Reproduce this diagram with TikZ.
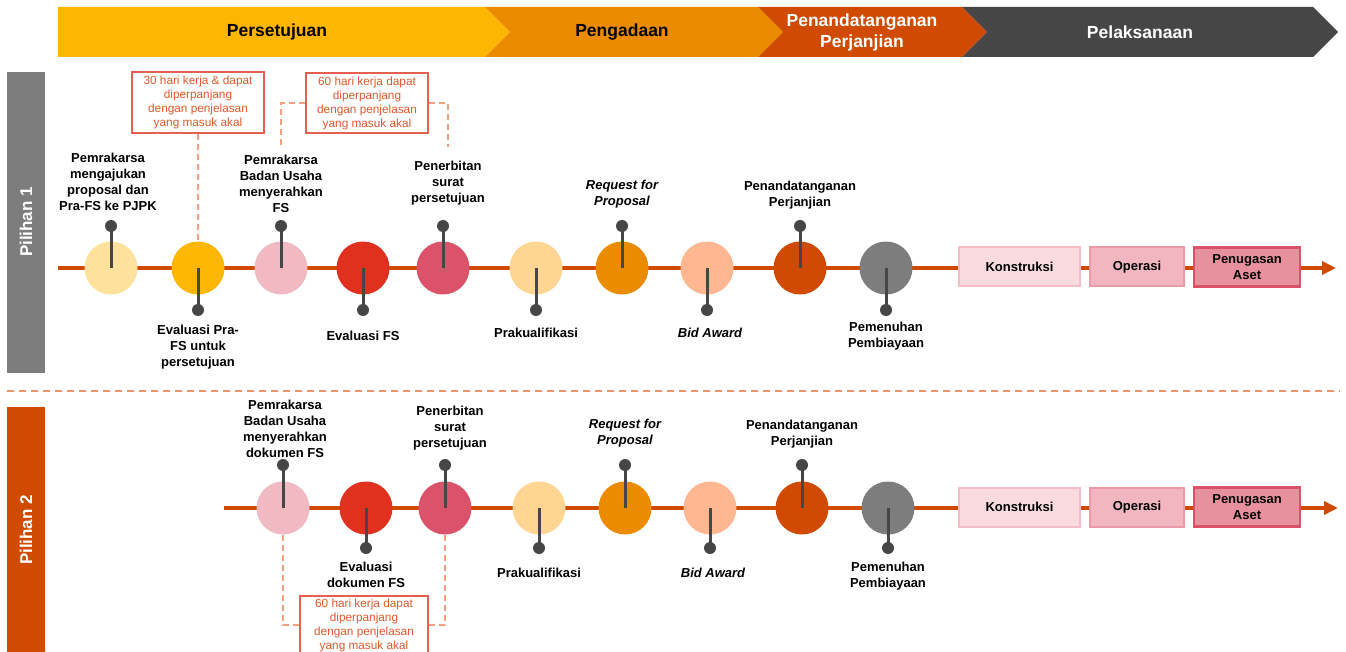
\documentclass[tikz,border=0pt]{standalone}
\usepackage{fontspec}
\setmainfont{Liberation Sans}
\usetikzlibrary{arrows.meta}
\definecolor{pYel}{HTML}{FFB600}
\definecolor{pOra}{HTML}{EB8C00}
\definecolor{pRed}{HTML}{D04A02}
\definecolor{pDark}{HTML}{464646}
\definecolor{pGray}{HTML}{7D7D7D}
\definecolor{cLY}{HTML}{FEE19D}
\definecolor{cPink}{HTML}{F1BAC3}
\definecolor{cRed}{HTML}{E0301E}
\definecolor{cRose}{HTML}{DB536A}
\definecolor{cLO}{HTML}{FFD593}
\definecolor{cSal}{HTML}{FEB791}
\definecolor{noteTxt}{HTML}{E2582A}
\definecolor{noteBrd}{HTML}{E5604F}
\definecolor{dashC}{HTML}{F0A07E}
\definecolor{sepC}{HTML}{EC9470}
\definecolor{boxAf}{HTML}{F9DADF}
\definecolor{boxAd}{HTML}{F3BDC6}
\definecolor{boxBf}{HTML}{F1B6C0}
\definecolor{boxBd}{HTML}{EA99A7}
\definecolor{boxCf}{HTML}{E8909E}
\definecolor{boxCd}{HTML}{DD5168}
\tikzset{
  stepc/.style={circle, fill=#1, minimum size=53pt, inner sep=0pt},
  dotn/.style={circle, fill=pDark, minimum size=12pt, inner sep=0pt},
  stemline/.style={draw=pDark, line width=3pt},
  lbl/.style={font=\bfseries\fontsize{13}{16}\selectfont, align=center, inner sep=0pt, text=black},
  ilbl/.style={font=\bfseries\itshape\fontsize{13}{16}\selectfont, align=center, inner sep=0pt, text=black},
  banner/.style={font=\bfseries\fontsize{17.5}{21}\selectfont, align=center, inner sep=0pt},
  notebox/.style={draw=noteBrd, line width=1.2pt, fill=white, text=noteTxt, align=center,
    font=\fontsize{11.8}{14}\selectfont, inner sep=0pt},
  dashl/.style={draw=dashC, line width=1.5pt, dash pattern=on 6pt off 4pt},
  tline/.style={draw=pRed, line width=4.5pt, -{Triangle[length=14pt,width=13pt]}},
  endbox/.style={draw=#1, line width=2pt, minimum height=39pt, inner sep=0pt,
    font=\bfseries\fontsize{13}{16}\selectfont, align=center},
  pil/.style={font=\bfseries\fontsize{17}{20}\selectfont, text=white, rotate=90, inner sep=0pt}
}
\begin{document}
\begin{tikzpicture}[x=1pt,y=-1pt]
\useasboundingbox (0,0) rectangle (1346,652);
\clip (0,0) rectangle (1346,652);
\fill[white] (0,0) rectangle (1346,652);

% ---- banner ----
\fill[pYel] (58,7) -- (485,7) -- (510,32) -- (485,57) -- (58,57) -- cycle;
\fill[pOra] (485,7) -- (758,7) -- (783,32) -- (758,57) -- (485,57) -- (510,32) -- cycle;
\fill[pRed] (758,7) -- (962,7) -- (987,32) -- (962,57) -- (758,57) -- (783,32) -- cycle;
\fill[pDark] (962,7) -- (1313,7) -- (1338,32) -- (1313,57) -- (962,57) -- (987,32) -- cycle;
\node[banner, text=black] (h1) at (277,32) {Persetujuan};
\node[banner, text=black] (h2) at (622,32) {Pengadaan};
\node[banner, text=white] (h3) at (862,32) {Penandatanganan\\Perjanjian};
\node[banner, text=white] (h4) at (1140,32) {Pelaksanaan};

% ---- side bars ----
\fill[pGray] (7,72) rectangle (45,373);
\node[pil] (p1) at (26,222) {Pilihan 1};
\fill[pRed] (7,407) rectangle (45,660);
\node[pil] (p2) at (26,530) {Pilihan 2};

% ---- separator ----
\coordinate (s1) at (7,391);
\coordinate (s2) at (1340,391);
\draw[draw=sepC, line width=1.3pt, dash pattern=on 7pt off 5pt] (s1) -- (s2);

% ================= ROW 1 =================
\coordinate (r1s) at (58,268);
\coordinate (r1e) at (1336,268);
\draw[tline] (r1s) -- (r1e);

\node[stepc=cLY]   (a1)  at (111,268) {};
\node[stepc=pYel]  (a2)  at (198,268) {};
\node[stepc=cPink] (a3)  at (281,268) {};
\node[stepc=cRed]  (a4)  at (363,268) {};
\node[stepc=cRose] (a5)  at (443,268) {};
\node[stepc=cLO]   (a6)  at (536,268) {};
\node[stepc=pOra]  (a7)  at (622,268) {};
\node[stepc=cSal]  (a8)  at (707,268) {};
\node[stepc=pRed]  (a9)  at (800,268) {};
\node[stepc=pGray] (a10) at (886,268) {};

\node[dotn] (a1d)  at (111,226) {};
\node[dotn] (a2d)  at (198,310) {};
\node[dotn] (a3d)  at (281,226) {};
\node[dotn] (a4d)  at (363,310) {};
\node[dotn] (a5d)  at (443,226) {};
\node[dotn] (a6d)  at (536,310) {};
\node[dotn] (a7d)  at (622,226) {};
\node[dotn] (a8d)  at (707,310) {};
\node[dotn] (a9d)  at (800,226) {};
\node[dotn] (a10d) at (886,310) {};
\foreach \n in {a1,a2,a3,a4,a5,a6,a7,a8,a9,a10}
  \draw[stemline] (\n.center) -- (\n d.center);

\node[lbl] (la1)  at (108,182) {Pemrakarsa\\mengajukan\\proposal dan\\Pra-FS ke PJPK};
\node[lbl] (la2)  at (198,347) {Evaluasi Pra-\\FS untuk\\persetujuan};
\node[lbl] (la3)  at (281,184) {Pemrakarsa\\Badan Usaha\\menyerahkan\\FS};
\node[lbl] (la4)  at (363,336) {Evaluasi FS};
\node[lbl] (la5)  at (448,183) {Penerbitan\\surat\\persetujuan};
\node[lbl] (la6)  at (536,333) {Prakualifikasi};
\node[ilbl] (la7) at (622,194) {Request for\\Proposal};
\node[ilbl] (la8) at (710,333) {Bid Award};
\node[lbl] (la9)  at (800,195) {Penandatanganan\\Perjanjian};
\node[lbl] (la10) at (886,336) {Pemenuhan\\Pembiayaan};

% notes row 1
\node[notebox, minimum width=132pt, minimum height=61pt] (n1) at (198,102.5)
  {30 hari kerja \& dapat\\diperpanjang\\dengan penjelasan\\yang masuk akal};
\node[notebox, minimum width=122pt, minimum height=60pt] (n2) at (367,103)
  {60 hari kerja dapat\\diperpanjang\\dengan penjelasan\\yang masuk akal};
\draw[dashl] (n1.south) -- (a2.north);
\coordinate (b1) at (281,147);
\coordinate (b2) at (448,147);
\draw[dashl] (n2.west) -| (b1);
\draw[dashl] (n2.east) -| (b2);

% end boxes row 1
\node[endbox=boxAd, fill=boxAf, minimum width=121pt] (k1) at (1019.5,267) {Konstruksi};
\node[endbox=boxBd, fill=boxBf, minimum width=94pt]  (o1) at (1137,267) {Operasi};
\node[endbox=boxCd, fill=boxCf, minimum width=106pt, line width=2.6pt] (g1) at (1247,267) {Penugasan\\Aset};

% ================= ROW 2 =================
\coordinate (r2s) at (224,508);
\coordinate (r2e) at (1338,508);
\draw[tline] (r2s) -- (r2e);

\node[stepc=cPink] (b1c) at (283,508) {};
\node[stepc=cRed]  (b2c) at (366,508) {};
\node[stepc=cRose] (b3c) at (445,508) {};
\node[stepc=cLO]   (b4c) at (539,508) {};
\node[stepc=pOra]  (b5c) at (625,508) {};
\node[stepc=cSal]  (b6c) at (710,508) {};
\node[stepc=pRed]  (b7c) at (802,508) {};
\node[stepc=pGray] (b8c) at (888,508) {};

\node[dotn] (b1cd) at (283,465) {};
\node[dotn] (b2cd) at (366,548) {};
\node[dotn] (b3cd) at (445,465) {};
\node[dotn] (b4cd) at (539,548) {};
\node[dotn] (b5cd) at (625,465) {};
\node[dotn] (b6cd) at (710,548) {};
\node[dotn] (b7cd) at (802,465) {};
\node[dotn] (b8cd) at (888,548) {};
\foreach \n in {b1c,b2c,b3c,b4c,b5c,b6c,b7c,b8c}
  \draw[stemline] (\n.center) -- (\n d.center);

\node[lbl] (lb1) at (285,429) {Pemrakarsa\\Badan Usaha\\menyerahkan\\dokumen FS};
\node[lbl] (lb2) at (366,575) {Evaluasi\\dokumen FS};
\node[lbl] (lb3) at (450,428) {Penerbitan\\surat\\persetujuan};
\node[lbl] (lb4) at (539,573) {Prakualifikasi};
\node[ilbl] (lb5) at (625,433) {Request for\\Proposal};
\node[ilbl] (lb6) at (713,573) {Bid Award};
\node[lbl] (lb7) at (802,434) {Penandatanganan\\Perjanjian};
\node[lbl] (lb8) at (888,576) {Pemenuhan\\Pembiayaan};

% note row 2
\node[notebox, minimum width=128pt, minimum height=58pt] (n3) at (364,625)
  {60 hari kerja dapat\\diperpanjang\\dengan penjelasan\\yang masuk akal};
\draw[dashl] (b1c.south) |- (n3.west);
\draw[dashl] (b3c.south) |- (n3.east);

% end boxes row 2
\node[endbox=boxAd, fill=boxAf, minimum width=121pt] (k2) at (1019.5,507) {Konstruksi};
\node[endbox=boxBd, fill=boxBf, minimum width=94pt]  (o2) at (1137,507) {Operasi};
\node[endbox=boxCd, fill=boxCf, minimum width=106pt, line width=2.6pt] (g2) at (1247,507) {Penugasan\\Aset};
\end{tikzpicture}
\end{document}
